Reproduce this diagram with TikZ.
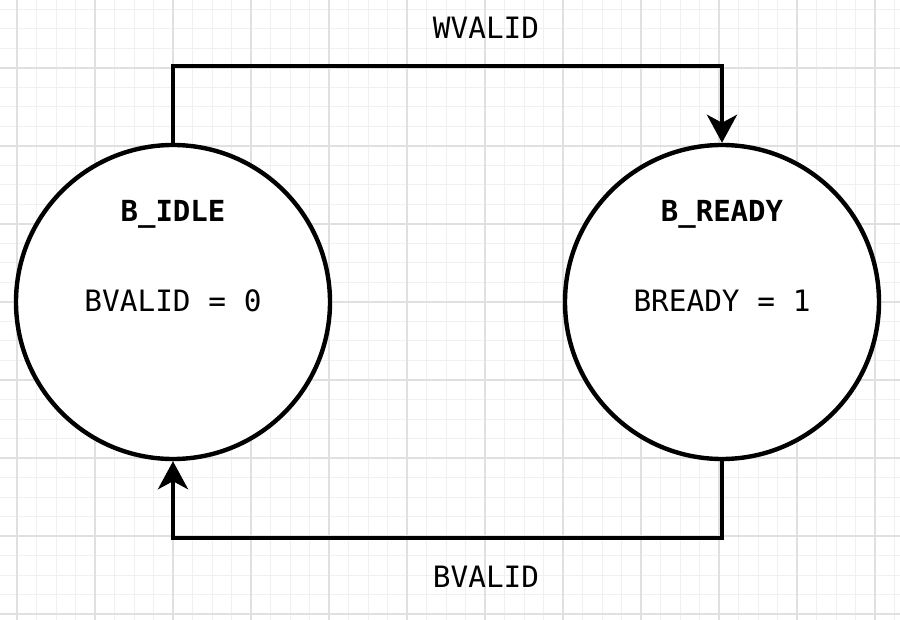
\documentclass[tikz,border=0pt]{standalone}
\usepackage{fontspec}
\setmonofont{DejaVu Sans Mono}
\usetikzlibrary{arrows.meta}
\usetikzlibrary{positioning}

\definecolor{minorgrid}{HTML}{F0F0F0}
\definecolor{majorgrid}{HTML}{E0E0E0}

\tikzset{
    state/.style={circle, draw=black, fill=white, line width=2.2pt, inner sep=0pt, minimum size=157pt},
    statename/.style={font=\ttfamily\bfseries\fontsize{14.5}{17}\selectfont},
    stateval/.style={font=\ttfamily\fontsize{14.7}{17}\selectfont},
    flow/.style={line width=2.2pt, -{Stealth[length=14pt, width=15pt, inset=4pt]}},
    minorline/.style={draw=minorgrid, line width=0.5pt},
    majorline/.style={draw=majorgrid, line width=0.6pt}
}

\begin{document}
\begin{tikzpicture}[x=0.5pt, y=-0.5pt]
            \useasboundingbox (0,0) rectangle (900,620);
            \fill[white] (0,0) rectangle (900,620);
            % background grid
            \foreach \i in {0,...,46} \draw[minorline] ({-2.5+19.5*\i},0) -- ({-2.5+19.5*\i},620);
            \foreach \i in {0,...,31} \draw[minorline] (0,{9.5+19.5*\i}) -- (900,{9.5+19.5*\i});
            \foreach \i in {0,...,11} \draw[majorline] ({17+78*\i},0) -- ({17+78*\i},620);
            \foreach \i in {0,...,7} \draw[majorline] (0,{68+78*\i}) -- (900,{68+78*\i});
            % states
            \node[state] (idle) at (173,302) {};
            \node[state] (ready) at (722,302) {};
            \node[statename] (idlename) at (173,214) {B\_IDLE};
            \node[stateval] (idleval) at (173,301) {BVALID = 0};
            \node[statename] (readyname) at (722,214) {B\_READY};
            \node[stateval] (readyval) at (722,301) {BREADY = 1};
            % transitions
            \draw[flow] (idle.north) -- ++(0,-77) -| (ready.north);
            \draw[flow] (ready.south) -- ++(0,77) -| (idle.south);
            \node[stateval] (wlabel) at (486,28) {WVALID};
            \node[stateval] (blabel) at (486,577) {BVALID};
        \end{tikzpicture}
\end{document}
